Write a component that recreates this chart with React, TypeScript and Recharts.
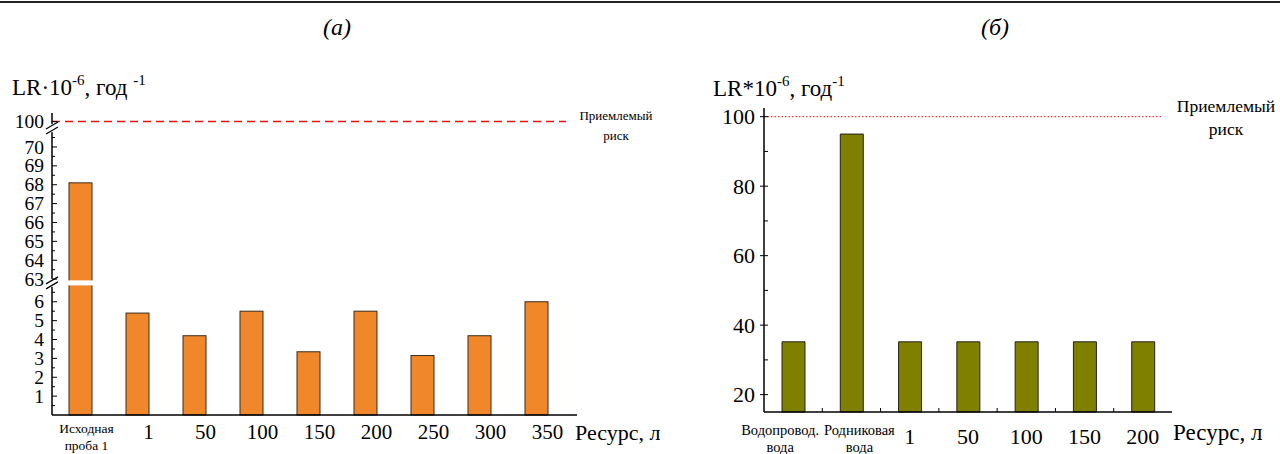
import React from "react";
import { Bar, BarChart, ReferenceLine, XAxis, YAxis } from "recharts";

const FONT = '"Liberation Serif", "Times New Roman", serif';

// ---- panel (а): broken y-scale ----
const leftCategories = ["Исходная\nпроба 1", "1", "50", "100", "150", "200", "250", "300", "350"];
const leftValues = [68.1, 5.4, 4.2, 5.5, 3.35, 5.5, 3.15, 4.2, 6.0];
const leftMajorTicks = [1, 2, 3, 4, 5, 6, 63, 64, 65, 66, 67, 68, 69, 70, 100];
const leftMinorTicks = [0.5, 1.5, 2.5, 3.5, 4.5, 5.5, 6.5, 63.5, 64.5, 65.5, 66.5, 67.5, 68.5, 69.5, 70.5];
const leftRisk = 100;

// ---- panel (б) ----
const rightCategories = ["Водопровод.\nвода", "Родниковая\nвода", "1", "50", "100", "150", "200"];
const rightValues = [35.2, 95, 35.2, 35.2, 35.2, 35.2, 35.2];
const rightMajorTicks = [20, 40, 60, 80, 100];
const rightMinorTicks = [30, 50, 70, 90];
const rightRisk = 100;

const ORANGE = "#f0882b";
const OLIVE = "#808000";

// broken axis: 0..7 as is, 63..71 shifted down, 100 squeezed on top
const LOW_BREAK = 7.0;
const HIGH_BREAK = 15.2;
function toDisplay(v: number) {
  if (v <= LOW_BREAK) return v;
  if (v < 90) return 7.2 + (v - 63);
  return 15.55;
}

const leftData = leftCategories.map((name, i) => ({
  name,
  value: leftValues[i],
  shown: toDisplay(leftValues[i]),
}));
const rightData = rightCategories.map((name, i) => ({ name, value: rightValues[i] }));

type TickInfo = { kind: "major" | "minor" | "break"; label?: string };
const leftTickInfo = new Map<string, TickInfo>();
leftMajorTicks.forEach((v) => leftTickInfo.set(toDisplay(v).toFixed(3), { kind: "major", label: String(v) }));
leftMinorTicks.forEach((v) => leftTickInfo.set(toDisplay(v).toFixed(3), { kind: "minor" }));
[LOW_BREAK, HIGH_BREAK].forEach((v) => leftTickInfo.set(v.toFixed(3), { kind: "break" }));
const leftTicks = [...leftTickInfo.keys()].map(Number).sort((a, b) => a - b);

function LeftYTick(props: any) {
  const { x, y, payload } = props;
  const info = leftTickInfo.get(Number(payload.value).toFixed(3));
  if (!info) return null;
  if (info.kind === "break") {
    return (
      <g>
        <rect x={x - 2} y={y - 4} width={4} height={8} fill="#fff" />
        <line x1={x - 6} y1={y + 1} x2={x + 6} y2={y - 6} stroke="#000" strokeWidth={1.2} />
        <line x1={x - 6} y1={y + 6} x2={x + 6} y2={y - 1} stroke="#000" strokeWidth={1.2} />
      </g>
    );
  }
  if (info.kind === "minor") {
    return <line x1={x} y1={y} x2={x + 3} y2={y} stroke="#000" strokeWidth={1} />;
  }
  return (
    <g>
      <line x1={x} y1={y} x2={x + 5} y2={y} stroke="#000" strokeWidth={1} />
      <text x={x - 8} y={y} dy="0.34em" textAnchor="end" fontSize={19.5} fontFamily={FONT} fill="#000">
        {info.label}
      </text>
    </g>
  );
}

function LeftXTick(props: any) {
  const { x, y, payload } = props;
  const lines = String(payload.value).split("\n");
  if (lines.length > 1) {
    return (
      <g fontFamily={FONT} fontSize={13.5} fill="#000">
        {lines.map((l, i) => (
          <text key={i} x={x + 6} y={y + 18 + i * 16.5} textAnchor="middle">
            {l}
          </text>
        ))}
      </g>
    );
  }
  return (
    <text x={x + 11} y={y + 24} textAnchor="middle" fontSize={21} fontFamily={FONT} fill="#000">
      {lines[0]}
    </text>
  );
}

function BrokenBar(props: any) {
  const { x, y, width, height, payload } = props;
  const bottom = y + height;
  const ppu = height / payload.shown;
  const gapY = bottom - LOW_BREAK * ppu;
  return (
    <g>
      <rect x={x} y={y} width={width} height={height} fill={ORANGE} stroke="#3b2a1c" strokeWidth={1} />
      {payload.value > LOW_BREAK && (
        <rect x={x - 1.5} y={gapY - 2.5} width={width + 3} height={5} fill="#fff" />
      )}
    </g>
  );
}

const rightTickKind = new Map<number, "major" | "minor">();
rightMajorTicks.forEach((v) => rightTickKind.set(v, "major"));
rightMinorTicks.forEach((v) => rightTickKind.set(v, "minor"));
const rightTicks = [...rightTickKind.keys()].sort((a, b) => a - b);

function RightYTick(props: any) {
  const { x, y, payload } = props;
  const kind = rightTickKind.get(payload.value);
  if (kind === "minor") return <line x1={x} y1={y} x2={x + 4} y2={y} stroke="#000" strokeWidth={1} />;
  return (
    <g>
      <line x1={x - 4} y1={y} x2={x + 4} y2={y} stroke="#000" strokeWidth={1} />
      <text x={x - 9} y={y} dy="0.34em" textAnchor="end" fontSize={22} fontFamily={FONT} fill="#000">
        {payload.value}
      </text>
    </g>
  );
}

const RIGHT_W = 490;
const RIGHT_YAXIS_W = 64;
const RIGHT_MARGIN_R = 18;
const rightBand = (RIGHT_W - RIGHT_YAXIS_W - RIGHT_MARGIN_R) / rightCategories.length;
const rightLabelShift = [-13, 8];

function RightXTick(props: any) {
  const { x, y, payload, index } = props;
  const lines = String(payload.value).split("\n");
  const edge = <line x1={x - rightBand / 2} y1={y} x2={x - rightBand / 2} y2={y - 4} stroke="#000" strokeWidth={1} />;
  if (lines.length > 1) {
    const dx = rightLabelShift[index] ?? 0;
    return (
      <g fontFamily={FONT} fontSize={14.5} fill="#000">
        {index > 0 && edge}
        {lines.map((l, i) => (
          <text key={i} x={x + dx} y={y + 23 + i * 17} textAnchor="middle">
            {l}
          </text>
        ))}
      </g>
    );
  }
  return (
    <g>
      {edge}
      <text x={x} y={y + 32} textAnchor="middle" fontSize={22} fontFamily={FONT} fill="#000">
        {lines[0]}
      </text>
    </g>
  );
}

function ShortLine(trim: number, dash: string, width: number) {
  return (p: any) => (
    <line x1={p.x1} y1={p.y1} x2={p.x2 - trim} y2={p.y2} stroke="#e81010" strokeWidth={width} strokeDasharray={dash} />
  );
}

export default function App() {
  return (
    <div style={{ position: "absolute", left: 0, top: 0, width: 1280, height: 454, background: "#fff", overflow: "hidden" }}>
      <div style={{ position: "absolute", left: 0, top: 0 }}>
        <BarChart width={600} height={454} data={leftData} margin={{ top: 113, right: 23, bottom: 0, left: 0 }}>
          <XAxis
            dataKey="name"
            height={39}
            padding={{ left: 0, right: 12 }}
            axisLine={{ stroke: "#000", strokeWidth: 1.5 }}
            tickLine={false}
            tickSize={0}
            tickMargin={0}
            interval={0}
            tick={<LeftXTick />}
          />
          <YAxis
            type="number"
            domain={[0, 16]}
            ticks={leftTicks}
            width={52}
            interval={0}
            axisLine={{ stroke: "#000", strokeWidth: 1.5 }}
            tickLine={false}
            tickSize={0}
            tickMargin={0}
            tick={<LeftYTick />}
          />
          <ReferenceLine y={toDisplay(leftRisk)} shape={ShortLine(11, "8 5", 1.4)} />
          <Bar dataKey="shown" barSize={23} isAnimationActive={false} shape={<BrokenBar />} />
        </BarChart>
      </div>
      <div style={{ position: "absolute", left: 700, top: 0 }}>
        <BarChart width={RIGHT_W} height={454} data={rightData} margin={{ top: 108, right: RIGHT_MARGIN_R, bottom: 0, left: 0 }}>
          <XAxis
            dataKey="name"
            height={42}
            axisLine={{ stroke: "#000", strokeWidth: 1.5 }}
            tickLine={false}
            tickSize={0}
            tickMargin={0}
            interval={0}
            tick={<RightXTick />}
          />
          <YAxis
            type="number"
            domain={[15, 102.5]}
            ticks={rightTicks}
            width={RIGHT_YAXIS_W}
            interval={0}
            axisLine={{ stroke: "#000", strokeWidth: 1.5 }}
            tickLine={false}
            tickSize={0}
            tickMargin={0}
            tick={<RightYTick />}
          />
          <ReferenceLine y={rightRisk} shape={ShortLine(9, "1.5 2", 1)} />
          <Bar dataKey="value" barSize={23} fill={OLIVE} stroke="#222" strokeWidth={1} isAnimationActive={false} />
        </BarChart>
      </div>
      <svg width={1280} height={454} style={{ position: "absolute", left: 0, top: 0, pointerEvents: "none" }} fontFamily={FONT}>
        <line x1={0} y1={2} x2={1280} y2={2} stroke="#222" strokeWidth={2} />
        <text x={337} y={35} fontSize={24} fontStyle="italic" textAnchor="middle">(а)</text>
        <text x={995} y={35} fontSize={24} fontStyle="italic" textAnchor="middle">(б)</text>
        <text x={12} y={95} fontSize={23}>
          LR·10<tspan fontSize={15} dy={-10}>-6</tspan>
          <tspan dy={10}>, год </tspan>
          <tspan fontSize={15} dy={-10}>-1</tspan>
        </text>
        <text x={713} y={96} fontSize={23}>
          LR*10<tspan fontSize={15} dy={-10}>-6</tspan>
          <tspan dy={10}>, год</tspan>
          <tspan fontSize={15} dy={-10}>-1</tspan>
        </text>
        <text x={575} y={440} fontSize={22}>Ресурс, л</text>
        <text x={1173} y={440} fontSize={23}>Ресурс, л</text>
        <text x={616} y={120} fontSize={13} textAnchor="middle">Приемлемый</text>
        <text x={616} y={140} fontSize={13} textAnchor="middle">риск</text>
        <text x={1226} y={112} fontSize={17.5} textAnchor="middle">Приемлемый</text>
        <text x={1226} y={135} fontSize={17.5} textAnchor="middle">риск</text>
      </svg>
    </div>
  );
}
